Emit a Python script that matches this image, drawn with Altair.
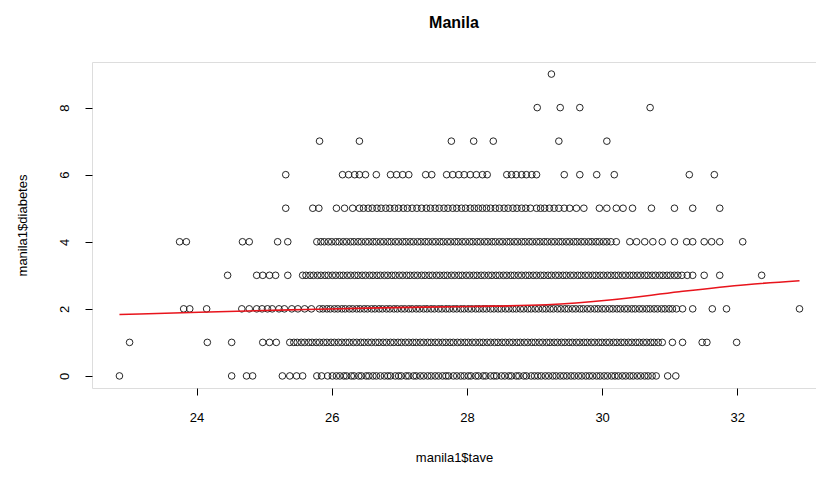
import altair as alt
import pandas as pd

title_text = "Manila"
x_title = "manila1$tave"
y_title = "manila1$diabetes"
x_ticks = [24, 26, 28, 30, 32]
y_ticks = [0, 2, 4, 6, 8]

# x values (manila1$tave) of the points at each diabetes count
lvl9 = "29.25"
lvl8 = "29.04 29.38 29.67 30.71"
lvl7 = "25.82 26.41 27.77 28.10 28.39 29.36 30.07"
lvl6 = ("25.32 26.16 26.25 26.34 26.41 26.50 26.66 26.87 26.96 27.05 27.14 27.39 27.48 "
        "27.70 27.79 27.88 27.96 28.05 28.14 28.23 28.30 28.59 28.66 28.73 28.81 28.88 "
        "28.96 29.03 29.44 29.67 29.92 30.18 31.29 31.66")
lvl5 = ("25.32 25.72 25.81 26.07 26.19 26.31 "
        "26.41 26.47 26.54 26.60 26.67 26.73 26.80 26.86 26.93 26.99 27.06 27.12 27.19 27.26 27.33 "
        "27.40 27.46 27.53 27.59 27.66 27.72 27.79 27.85 27.92 27.98 28.05 28.11 28.17 28.23 "
        "28.29 28.35 28.42 28.48 28.55 28.61 28.68 28.74 28.81 28.87 28.94 29.03 "
        "29.09 29.15 29.22 29.29 29.36 29.44 29.52 "
        "29.62 29.73 29.96 30.07 30.21 30.31 30.45 30.73 31.07 31.34 31.74")
lvl4 = ("23.75 23.85 24.68 24.78 25.20 25.35 "
        "25.78 25.84 25.89 25.95 26.00 26.06 26.11 26.17 26.22 26.28 26.33 26.39 26.44 26.50 26.55 "
        "26.61 26.66 26.72 26.77 26.83 26.88 26.94 26.99 27.05 27.10 27.16 27.21 27.27 27.32 27.38 "
        "27.43 27.49 27.54 27.60 27.65 27.71 27.76 27.82 27.87 27.93 27.98 28.04 28.09 28.15 28.20 "
        "28.26 28.31 28.37 28.42 28.48 28.53 28.59 28.64 28.70 28.75 28.81 28.86 28.92 28.97 29.03 "
        "29.08 29.14 29.19 29.25 29.30 29.36 29.41 29.47 29.52 29.58 29.63 29.69 29.74 29.80 29.85 "
        "29.91 29.96 30.02 30.07 30.13 30.21 "
        "30.41 30.51 30.63 30.75 30.89 31.07 31.25 31.34 31.51 31.62 31.74 32.08")
lvl3 = ("24.46 24.89 24.98 25.08 25.17 25.35 "
        "25.57 25.62 25.68 25.73 25.79 25.84 25.90 25.95 26.01 26.06 26.12 26.17 26.23 26.28 26.34 "
        "26.39 26.45 26.50 26.56 26.61 26.67 26.72 26.78 26.83 26.89 26.94 27.00 27.05 27.11 27.16 "
        "27.22 27.27 27.33 27.38 27.44 27.49 27.55 27.60 27.66 27.71 27.77 27.82 27.88 27.93 27.99 "
        "28.04 28.10 28.15 28.21 28.26 28.32 28.37 28.43 28.48 28.54 28.59 28.65 28.70 28.76 28.81 "
        "28.87 28.92 28.98 29.03 29.09 29.14 29.20 29.25 29.31 29.36 29.42 29.47 29.53 29.58 29.64 "
        "29.69 29.75 29.80 29.86 29.91 29.97 30.02 30.08 30.13 30.19 30.24 30.30 30.35 30.41 30.46 "
        "30.52 30.57 30.63 30.68 30.74 30.79 30.85 30.90 30.96 31.01 31.07 31.12 31.18 31.26 31.34 "
        "31.51 31.74 32.36")
lvl2 = ("23.81 23.90 24.15 24.67 24.78 "
        "24.89 24.97 25.05 25.12 25.22 25.30 25.41 25.50 25.60 25.70 "
        "25.82 25.87 25.93 25.98 26.04 26.09 26.15 26.20 26.26 26.31 26.37 26.42 26.48 26.53 26.59 "
        "26.64 26.70 26.75 26.81 26.86 26.92 26.97 27.03 27.08 27.14 27.19 27.25 27.30 27.36 27.41 "
        "27.47 27.52 27.58 27.63 27.69 27.74 27.80 27.85 27.91 27.96 28.02 28.07 28.13 28.18 28.24 "
        "28.29 28.35 28.40 28.46 28.51 28.57 28.62 28.68 28.73 28.79 28.84 28.90 28.95 29.01 29.06 "
        "29.12 29.17 29.23 29.28 29.34 29.39 29.45 29.50 29.56 29.61 29.67 29.72 29.78 29.83 29.89 "
        "29.94 30.00 30.05 30.11 30.16 30.22 30.27 30.33 30.38 30.44 30.49 30.55 30.60 30.66 30.71 "
        "30.77 30.82 30.88 30.93 30.99 31.04 31.10 31.19 "
        "31.34 31.63 31.84 32.92")
lvl1 = ("23.01 24.16 24.52 24.98 25.08 25.18 "
        "25.38 25.44 25.49 25.55 25.60 25.66 25.71 25.77 25.82 25.88 25.93 25.99 26.04 26.10 26.15 "
        "26.21 26.26 26.32 26.37 26.43 26.48 26.54 26.59 26.65 26.70 26.76 26.81 26.87 26.92 26.98 "
        "27.03 27.09 27.14 27.20 27.25 27.31 27.36 27.42 27.47 27.53 27.58 27.64 27.69 27.75 27.80 "
        "27.86 27.91 27.97 28.02 28.08 28.13 28.19 28.24 28.30 28.35 28.41 28.46 28.52 28.57 28.63 "
        "28.68 28.74 28.79 28.85 28.90 28.96 29.01 29.07 29.12 29.18 29.23 29.29 29.34 29.40 29.45 "
        "29.51 29.56 29.62 29.67 29.73 29.78 29.84 29.89 29.95 30.00 30.06 30.11 30.17 30.22 30.28 "
        "30.33 30.39 30.44 30.50 30.55 30.61 30.66 30.72 30.77 30.83 30.89 "
        "31.04 31.19 31.48 31.55 31.99")
lvl0 = ("22.86 24.52 24.74 24.83 25.27 25.38 25.48 25.57 25.78 25.85 25.94 26.01 "
        "26.07 26.12 26.18 26.22 26.29 26.33 26.40 26.44 26.51 26.55 26.61 26.66 26.72 26.78 26.83 "
        "26.87 26.94 26.99 27.03 27.10 27.14 27.21 27.25 27.31 27.36 27.42 27.47 27.53 27.58 27.64 "
        "27.69 27.73 27.80 27.85 27.91 27.96 28.02 28.06 28.13 28.17 28.24 28.28 28.35 28.40 28.44 "
        "28.51 28.56 28.62 28.66 28.73 28.77 28.84 28.88 28.95 29.00 29.05 29.10 29.16 29.21 29.27 "
        "29.32 29.38 29.43 29.48 29.54 29.59 29.65 29.70 29.76 29.81 29.86 29.92 29.97 30.03 30.08 "
        "30.14 30.19 30.24 30.30 30.35 30.41 30.46 30.52 30.57 30.63 30.68 30.74 30.80 "
        "30.97 31.09")

levels = [lvl0, lvl1, lvl2, lvl3, lvl4, lvl5, lvl6, lvl7, lvl8, lvl9]

# lowess smooth (red line)
lowess_x = [22.86, 24.04, 25.38, 26.71, 28.04, 29.18, 30.15, 31.14, 32.13, 32.92]
lowess_y = [1.83, 1.90, 1.97, 2.03, 2.07, 2.12, 2.27, 2.51, 2.72, 2.84]

rows = []
for count, s in enumerate(levels):
    for v in s.split():
        rows.append({"tave": float(v), "diabetes": count})
pts = pd.DataFrame(rows)
lw = pd.DataFrame({"tave": lowess_x, "diabetes": lowess_y})

FONT = "Liberation Sans"
xscale = alt.Scale(domain=[22.454, 33.164], nice=False, zero=False)
yscale = alt.Scale(domain=[-0.36, 9.36], nice=False, zero=False)

xaxis = alt.Axis(values=x_ticks, title=x_title, grid=False, domain=False,
                 tickSize=7, tickColor="#000", tickWidth=1,
                 labelFont=FONT, labelFontSize=13, labelColor="#000", labelPadding=16,
                 titleFont=FONT, titleFontSize=13, titleColor="#000", titleFontWeight="normal",
                 titlePadding=27, format="d")
yaxis = alt.Axis(values=y_ticks, title=y_title, grid=False, domain=False,
                 tickSize=7, tickColor="#000", tickWidth=1,
                 labelFont=FONT, labelFontSize=13, labelColor="#000", labelPadding=14,
                 labelAngle=270, labelAlign="center", labelBaseline="bottom",
                 titleFont=FONT, titleFontSize=13, titleColor="#000", titleFontWeight="normal",
                 titlePadding=29, format="d")

points = alt.Chart(pts).mark_point(shape="circle", filled=False, size=44,
                                   stroke="#1a1a1a", strokeWidth=0.95, opacity=1).encode(
    x=alt.X("tave:Q", scale=xscale, axis=xaxis),
    y=alt.Y("diabetes:Q", scale=yscale, axis=yaxis),
)

line = alt.Chart(lw).mark_line(color="#e8141c", strokeWidth=1.6, interpolate="monotone").encode(
    x=alt.X("tave:Q", scale=xscale),
    y=alt.Y("diabetes:Q", scale=yscale),
)

chart = alt.layer(points, line).properties(
    width=724, height=326,
    title=alt.TitleParams(title_text, font=FONT, fontSize=16, fontWeight="bold",
                          color="#000", anchor="middle", offset=31),
    autosize=alt.AutoSizeParams(type="none"),
    padding={"left": 84, "top": 54, "right": 0, "bottom": 78},
).configure_view(stroke="#222", strokeWidth=1).configure(background="white")

chart.save("out.html", embed_options={"renderer": "svg", "actions": False})
